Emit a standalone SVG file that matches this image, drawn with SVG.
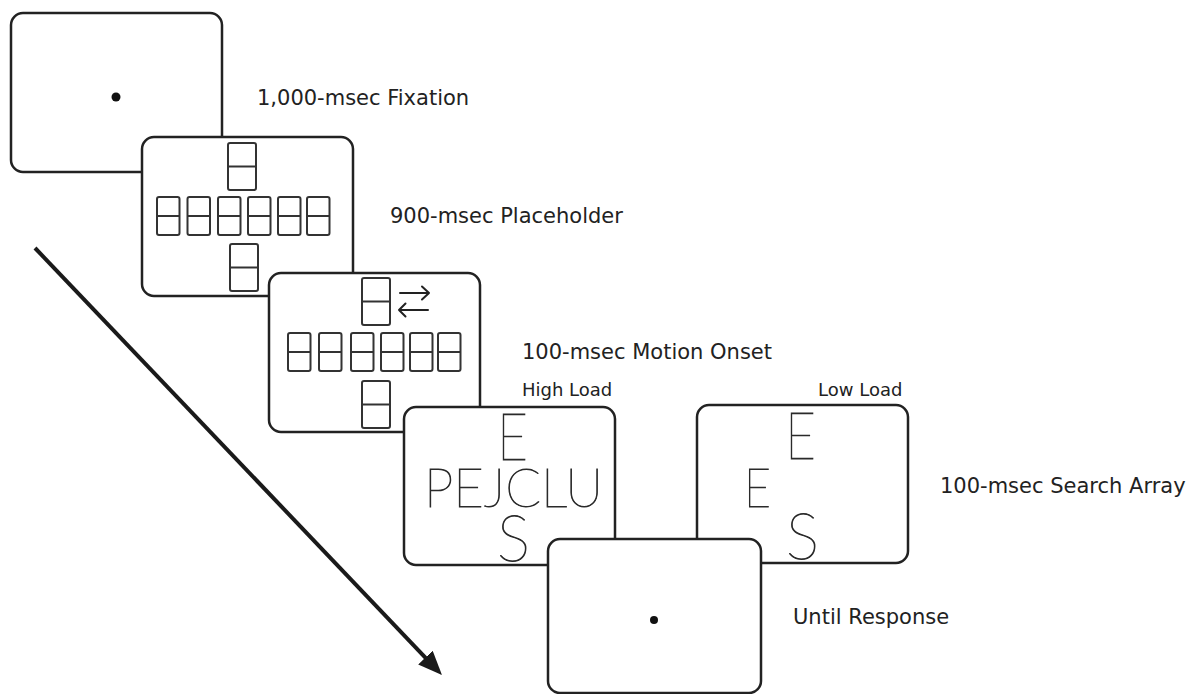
<svg xmlns="http://www.w3.org/2000/svg" xmlns:xlink="http://www.w3.org/1999/xlink" width="1203" height="694" viewBox="0 0 1203 694">
  <style>
    .screen { fill: #ffffff; stroke: #222222; stroke-width: 2.5; }
    .ph rect { fill: none; stroke: #333333; stroke-width: 2; }
    .ph line { stroke: #333333; stroke-width: 2; }
    .label { font-family: "DejaVu Sans", Verdana, sans-serif; fill: #222222; }
    .big { font-size: 21px; }
    .small { font-size: 18px; }
    .seg { font-family: Lato, "DejaVu Sans", sans-serif; font-weight: 100; fill: #2a2a2a; stroke: #2a2a2a; stroke-width: 0.9; }
    .dot { fill: #111111; }
    .mini { fill: none; stroke: #222222; stroke-width: 2; stroke-linecap: round; stroke-linejoin: round; }
    .timeline { stroke: #1a1a1a; stroke-width: 4; fill: none; }
  </style>
  <defs>
    <g id="phS" class="ph">
      <rect x="0" y="0" width="22.5" height="38" rx="2"/>
      <line x1="0" y1="19" x2="22.5" y2="19"/>
    </g>
    <g id="phL" class="ph">
      <rect x="0" y="0" width="28" height="47" rx="2"/>
      <line x1="0" y1="23.5" x2="28" y2="23.5"/>
    </g>
    <marker id="head" markerUnits="userSpaceOnUse" markerWidth="26" markerHeight="22" refX="12" refY="10" orient="auto">
      <path d="M0,0 L24,10 L0,20 z" fill="#1a1a1a"/>
    </marker>
  </defs>

  <g id="fixation">
    <rect class="screen" x="11" y="13" width="211" height="159" rx="12"/>
    <circle class="dot" cx="116" cy="97" r="4.5"/>
    <text class="label big" x="257" y="105">1,000-msec Fixation</text>
  </g>

  <g id="placeholder">
    <rect class="screen" x="142" y="137" width="211" height="159" rx="12"/>
    <use xlink:href="#phL" x="228" y="143"/>
    <use xlink:href="#phS" x="157" y="197"/>
    <use xlink:href="#phS" x="187.5" y="197"/>
    <use xlink:href="#phS" x="218" y="197"/>
    <use xlink:href="#phS" x="248" y="197"/>
    <use xlink:href="#phS" x="278" y="197"/>
    <use xlink:href="#phS" x="307" y="197"/>
    <use xlink:href="#phL" x="230" y="244"/>
    <text class="label big" x="390" y="223">900-msec Placeholder</text>
  </g>

  <g id="motion-onset">
    <rect class="screen" x="269" y="273" width="211" height="159" rx="12"/>
    <use xlink:href="#phL" x="362" y="278"/>
    <path class="mini" d="M400,293 H429 M422,286.5 L429,293 L422,299.5"/>
    <path class="mini" d="M399,310 H428 M405.5,303.5 L399,310 L405.5,316.5"/>
    <use xlink:href="#phS" x="288" y="333"/>
    <use xlink:href="#phS" x="319" y="333"/>
    <use xlink:href="#phS" x="351" y="333"/>
    <use xlink:href="#phS" x="381" y="333"/>
    <use xlink:href="#phS" x="410" y="333"/>
    <use xlink:href="#phS" x="438" y="333"/>
    <use xlink:href="#phL" x="362" y="381"/>
    <text class="label big" x="522" y="359">100-msec Motion Onset</text>
  </g>

  <g id="search-high">
    <rect class="screen" x="404" y="407" width="211" height="158" rx="12"/>
    <text class="seg" x="497" y="460" font-size="65" textLength="31" lengthAdjust="spacingAndGlyphs">E</text>
    <text class="seg" x="424" y="507" font-size="53" textLength="179" lengthAdjust="spacingAndGlyphs">PEJCLU</text>
    <text class="seg" x="497" y="561" font-size="64" textLength="33" lengthAdjust="spacingAndGlyphs">S</text>
    <text class="label small" x="522" y="396">High Load</text>
  </g>

  <g id="search-low">
    <rect class="screen" x="697" y="405" width="211" height="158" rx="12"/>
    <text class="seg" x="785" y="459" font-size="65" textLength="31" lengthAdjust="spacingAndGlyphs">E</text>
    <text class="seg" x="744" y="507" font-size="53" textLength="27" lengthAdjust="spacingAndGlyphs">E</text>
    <text class="seg" x="786" y="559" font-size="64" textLength="33" lengthAdjust="spacingAndGlyphs">S</text>
    <text class="label small" x="818" y="396">Low Load</text>
    <text class="label big" x="940" y="493">100-msec Search Array</text>
  </g>

  <g id="response">
    <rect class="screen" x="548" y="539" width="213" height="154" rx="12"/>
    <circle class="dot" cx="654" cy="620" r="4"/>
    <text class="label big" x="793" y="624">Until Response</text>
  </g>

  <g id="connectors">
    <line class="timeline" x1="35" y1="248" x2="433.7" y2="666.3" marker-end="url(#head)"/>
  </g>
</svg>
